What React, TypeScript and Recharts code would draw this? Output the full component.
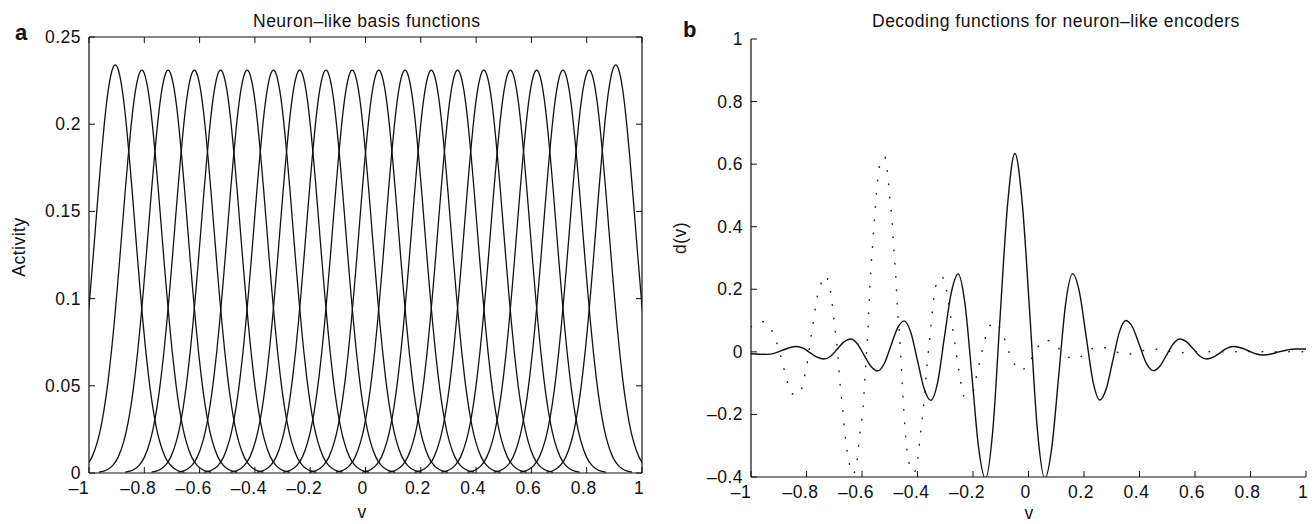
import React from 'react';
import { LineChart, Line, XAxis, YAxis } from 'recharts';

// tick values
const vTicks = [-1, -0.8, -0.6, -0.4, -0.2, 0, 0.2, 0.4, 0.6, 0.8, 1];
const activityTicks = [0, 0.05, 0.1, 0.15, 0.2, 0.25];
const decoderTicks = [-0.4, -0.2, 0, 0.2, 0.4, 0.6, 0.8, 1];

// panel a: centres and peak heights of the 20 tuning curves
const neuronCenters = [
  -0.905, -0.809, -0.714, -0.619, -0.524, -0.428, -0.333, -0.238, -0.143, -0.048,
  0.048, 0.143, 0.238, 0.333, 0.428, 0.524, 0.619, 0.714, 0.809, 0.905,
];
const neuronPeaks = [
  0.234, 0.231, 0.231, 0.231, 0.231, 0.231, 0.231, 0.231, 0.231, 0.231,
  0.231, 0.231, 0.231, 0.231, 0.231, 0.231, 0.231, 0.231, 0.231, 0.234,
];
// shape of one bump: offset from its centre and fraction of its peak
const bumpOffsets = [
  -0.25, -0.22, -0.2, -0.18, -0.16, -0.15, -0.14, -0.13, -0.12, -0.11, -0.1, -0.09, -0.08, -0.07,
  -0.06, -0.05, -0.04, -0.03, -0.02, -0.01, 0, 0.01, 0.02, 0.03, 0.04, 0.05, 0.06, 0.07, 0.08,
  0.09, 0.1, 0.11, 0.12, 0.13, 0.14, 0.15, 0.16, 0.18, 0.2, 0.22, 0.25,
];
const bumpShape = [
  0.002, 0.008, 0.019, 0.04, 0.079, 0.107, 0.143, 0.187, 0.24, 0.301, 0.371, 0.448, 0.53, 0.615,
  0.7, 0.78, 0.853, 0.915, 0.961, 0.99, 1, 0.99, 0.961, 0.915, 0.853, 0.78, 0.7, 0.615, 0.53,
  0.448, 0.371, 0.301, 0.24, 0.187, 0.143, 0.107, 0.079, 0.04, 0.019, 0.008, 0.002,
];

// panel b: solid decoder
const solidV = [
  -1, -0.97, -0.94, -0.914, -0.888, -0.862, -0.836, -0.811, -0.787, -0.762, -0.7375, -0.713,
  -0.689, -0.665, -0.641, -0.617, -0.593, -0.568, -0.544, -0.52, -0.496, -0.472, -0.448, -0.424,
  -0.4, -0.376, -0.352, -0.327, -0.303, -0.278, -0.2535, -0.229, -0.204, -0.18, -0.155, -0.1285,
  -0.102, -0.0755, -0.049, -0.022, 0.005, 0.032, 0.059, 0.084, 0.109, 0.134, 0.159, 0.1835,
  0.208, 0.2325, 0.257, 0.2805, 0.304, 0.3275, 0.351, 0.376, 0.4005, 0.425, 0.45, 0.474, 0.498,
  0.522, 0.546, 0.57, 0.594, 0.618, 0.642, 0.666, 0.69, 0.714, 0.738, 0.765, 0.792, 0.819, 0.846,
  0.875, 0.903, 0.932, 0.96, 1,
];
const solidD = [
  -0.006, -0.0075, -0.008, -0.004, 0.0045, 0.013, 0.017, 0.011, -0.003, -0.017, -0.023, -0.014,
  0.009, 0.032, 0.041, 0.026, -0.01, -0.046, -0.061, -0.038, 0.019, 0.076, 0.099, 0.062,
  -0.028, -0.118, -0.155, -0.096, 0.047, 0.19, 0.249, 0.154, -0.076, -0.305, -0.405, -0.249,
  0.117, 0.47, 0.634, 0.47, 0.117, -0.249, -0.405, -0.305, -0.075, 0.155, 0.25, 0.191,
  0.048, -0.095, -0.154, -0.117, -0.027, 0.063, 0.1, 0.077, 0.02, -0.037, -0.06, -0.045, -0.0095,
  0.026, 0.041, 0.032, 0.009, -0.014, -0.023, -0.017, -0.003, 0.011, 0.017, 0.013, 0.0035, -0.006, -0.01,
  -0.007, 0, 0.006, 0.009, 0.009,
];

// panel b: dotted decoder
const dottedV = [
  -1, -0.962, -0.926, -0.908, -0.894, -0.882, -0.87, -0.854, -0.839, -0.824, -0.81, -0.8, -0.792,
  -0.786, -0.778, -0.771, -0.764, -0.752, -0.733, -0.716, -0.709, -0.698, -0.687, -0.68, -0.67,
  -0.661, -0.647, -0.632, -0.618, -0.608, -0.596, -0.59, -0.584, -0.578, -0.574, -0.569, -0.562,
  -0.555, -0.548, -0.536, -0.518, -0.509, -0.5, -0.491, -0.485, -0.478, -0.473, -0.464, -0.452,
  -0.442, -0.437, -0.428, -0.415, -0.406, -0.398, -0.388, -0.377, -0.365, -0.355, -0.346, -0.331,
  -0.312, -0.295, -0.28, -0.265, -0.251, -0.231, -0.2015, -0.19, -0.169, -0.143, -0.122, -0.091,
  -0.075, -0.057, -0.03, 0.005, 0.027, 0.059, 0.098, 0.13, 0.173, 0.215, 0.257, 0.305, 0.351,
  0.399, 0.444, 0.494, 0.542, 0.6, 0.7, 0.8, 0.9, 1,
];
const dottedD = [
  0.08, 0.097, 0.07, 0.031, -0.01, -0.052, -0.092, -0.132, -0.138, -0.132, -0.09, -0.049, -0.004,
  0.036, 0.079, 0.122, 0.164, 0.206, 0.243, 0.206, 0.163, 0.078, -0.009, -0.094, -0.179,
  -0.266, -0.351, -0.39, -0.348, -0.262, -0.177, -0.092, -0.006, 0.079, 0.164, 0.252, 0.337,
  0.425, 0.508, 0.596, 0.623, 0.579, 0.494, 0.409, 0.323, 0.238, 0.15, 0.045, -0.15,
  -0.278, -0.321, -0.364, -0.385, -0.378, -0.335, -0.25, -0.164, -0.036, 0.049, 0.134, 0.22,
  0.24, 0.195, 0.11, 0.025, -0.06, -0.143, -0.13, -0.087, -0.004, 0.078, 0.095, 0.052,
  0.01, -0.028, -0.06, -0.031, 0.006, 0.038, 0.022, -0.011, -0.022, 0.004, 0.016, 0.004, -0.009,
  0.001, 0.009, 0.004, -0.003, 0.001, 0, 0.001, 0, 0,
];

const basisCurves = neuronCenters.map((c, i) =>
  bumpOffsets.map((o, j) => ({ x: c + o, y: neuronPeaks[i] * bumpShape[j] }))
);
const solidData = solidV.map((v, i) => ({ x: v, y: solidD[i] }));
const dottedData = dottedV.map((v, i) => ({ x: v, y: dottedD[i] }));

const FONT = '"Liberation Sans", Arial, Helvetica, sans-serif';
const INK = '#111';
const fmt = (v: number) => String(v).replace('-', '\u2013');

const BottomTick = (props: any) => {
  const { x, y, payload } = props;
  const v = payload.value;
  const shift = v === -1 ? -10 : v < 0 ? -6 : -3;
  return (
    <g>
      <line x1={x} y1={y} x2={x} y2={y - 6} stroke={INK} />
      <text x={x + shift} y={y + 21} textAnchor="middle" fontSize={17.5} letterSpacing={0.5} fontFamily={FONT} fill={INK}>
        {fmt(v)}
      </text>
    </g>
  );
};

const LeftTick = (props: any) => {
  const { x, y, payload } = props;
  return (
    <g>
      <line x1={x} y1={y} x2={x + 6} y2={y} stroke={INK} />
      <text x={x - 8} y={y + 6} textAnchor="end" fontSize={17.5} letterSpacing={0.5} fontFamily={FONT} fill={INK}>
        {fmt(payload.value)}
      </text>
    </g>
  );
};

const TopTick = (props: any) => <line x1={props.x} y1={props.y} x2={props.x} y2={props.y + 6} stroke={INK} />;
const RightTick = (props: any) => <line x1={props.x} y1={props.y} x2={props.x - 6} y2={props.y} stroke={INK} />;

const axisBase = {
  type: 'number' as const,
  allowDataOverflow: true,
  interval: 0 as const,
  tickLine: false,
  tickSize: 0,
  tickMargin: 0,
  axisLine: { stroke: INK, strokeWidth: 1.2 },
};

// plot area a: x 89..642, y 37..473
const BasisPanel = () => (
  <LineChart width={660} height={524} margin={{ top: 27, right: 8, bottom: 21, left: 29 }}>
    <XAxis {...axisBase} xAxisId="b" dataKey="x" domain={[-1, 1]} ticks={vTicks} height={30} tick={(p: any) => <BottomTick {...p} />} />
    <XAxis {...axisBase} xAxisId="t" orientation="top" dataKey="x" domain={[-1, 1]} ticks={vTicks} height={10} tick={(p: any) => <TopTick {...p} />} />
    <YAxis {...axisBase} yAxisId="l" domain={[0, 0.25]} ticks={activityTicks} width={60} tick={(p: any) => <LeftTick {...p} />} />
    <YAxis {...axisBase} yAxisId="r" orientation="right" domain={[0, 0.25]} ticks={activityTicks} width={10} tick={(p: any) => <RightTick {...p} />} />
    {basisCurves.map((curve, i) => (
      <Line
        key={`n${i}`}
        data={curve}
        dataKey="y"
        xAxisId="b"
        yAxisId="l"
        type="monotone"
        stroke={INK}
        strokeWidth={1.3}
        dot={false}
        activeDot={false}
        isAnimationActive={false}
      />
    ))}
  </LineChart>
);

// plot area b: x 751..1306, y 39..477
const DecoderPanel = () => (
  <LineChart width={654} height={524} margin={{ top: 39, right: 8, bottom: 17, left: 31 }}>
    <XAxis {...axisBase} xAxisId="b" dataKey="x" domain={[-1, 1]} ticks={vTicks} height={30} tick={(p: any) => <BottomTick {...p} />} />
    <YAxis {...axisBase} yAxisId="l" domain={[-0.4, 1]} ticks={decoderTicks} width={60} tick={(p: any) => <LeftTick {...p} />} />
    <Line
      data={dottedData}
      dataKey="y"
      xAxisId="b"
      yAxisId="l"
      type="monotone"
      stroke="#222"
      strokeWidth={1.5}
      strokeDasharray="0.5 12.8"
      strokeLinecap="round"
      dot={false}
      activeDot={false}
      isAnimationActive={false}
    />
    <Line
      data={solidData}
      dataKey="y"
      xAxisId="b"
      yAxisId="l"
      type="monotone"
      stroke={INK}
      strokeWidth={1.4}
      dot={false}
      activeDot={false}
      isAnimationActive={false}
    />
  </LineChart>
);

export default function App() {
  const txt = { fontFamily: FONT, fill: INK, fontSize: 17.5, letterSpacing: 0.5 };
  return (
    <div style={{ position: 'absolute', left: 0, top: 0, width: 1314, height: 524, background: '#fff' }}>
      <div style={{ position: 'absolute', left: 0, top: 0 }}>
        <BasisPanel />
      </div>
      <div style={{ position: 'absolute', left: 660, top: 0 }}>
        <DecoderPanel />
      </div>
      <svg width={1314} height={524} style={{ position: 'absolute', left: 0, top: 0, pointerEvents: 'none' }}>
        <text x={15} y={40} fontFamily={FONT} fontWeight="bold" fontSize={22} fill={INK}>a</text>
        <text x={683} y={37} fontFamily={FONT} fontWeight="bold" fontSize={22} fill={INK}>b</text>
        <text x={253} y={27} {...txt}>Neuron–like basis functions</text>
        <text x={872} y={27} {...txt}>Decoding functions for neuron–like encoders</text>
        <text x={24.5} y={247} textAnchor="middle" transform="rotate(-90 24.5 247)" {...txt}>Activity</text>
        <text x={686} y={238} textAnchor="middle" transform="rotate(-90 686 238)" {...txt}>d(v)</text>
        <text x={362} y={518} textAnchor="middle" {...txt}>v</text>
        <text x={1029} y={519} textAnchor="middle" {...txt}>v</text>
      </svg>
    </div>
  );
}
